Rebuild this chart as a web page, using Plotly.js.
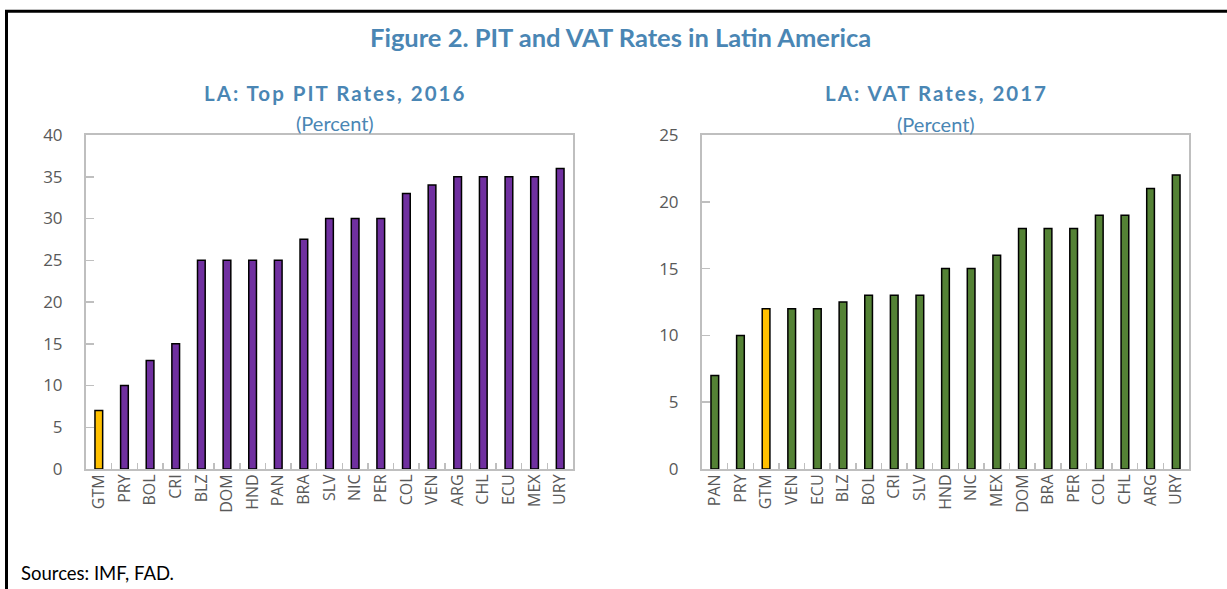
<!DOCTYPE html>
<html>
<head>
<meta charset="utf-8">
<script src="https://cdn.plot.ly/plotly-3.0.1.min.js"></script>
<style>
  html, body { margin: 0; padding: 0; background: #ffffff; }
  #chart { width: 1227px; height: 589px; }
</style>
</head>
<body>
<div id="chart"></div>
<script>
// ---- Data ----
const pitCountries = ["GTM","PRY","BOL","CRI","BLZ","DOM","HND","PAN","BRA","SLV","NIC","PER","COL","VEN","ARG","CHL","ECU","MEX","URY"];
const pitRates     = [7, 10, 13, 15, 25, 25, 25, 25, 27.5, 30, 30, 30, 33, 34, 35, 35, 35, 35, 36];

const vatCountries = ["PAN","PRY","GTM","VEN","ECU","BLZ","BOL","CRI","SLV","HND","NIC","MEX","DOM","BRA","PER","COL","CHL","ARG","URY"];
const vatRates     = [7, 10, 12, 12, 12, 12.5, 13, 13, 13, 15, 15, 16, 18, 18, 18, 19, 19, 21, 22];

const highlightCountry = "GTM";

const mainTitle = "Figure 2. PIT and VAT Rates in Latin America";
const pitTitle = "LA: Top PIT Rates, 2016";
const vatTitle = "LA: VAT Rates, 2017";
const unitLabel = "(Percent)";
const sourceNote = "Sources: IMF, FAD.";

// ---- Styling ----
const W = 1227, H = 589;
const PURPLE = "#7030A0", GREEN = "#548235", YELLOW = "#FFC000";
const BLUE = "#4A86B4", GRAY_TXT = "#595959", AXIS = "#BFBFBF";
const FONT = "Lato, 'Open Sans', sans-serif";
const TICKFONT = "'Open Sans', Lato, sans-serif";

const px = x => x / W;
const py = y => 1 - y / H;

function colorsFor(cats, base) {
  return cats.map(c => c === highlightCountry ? YELLOW : base);
}

const traces = [
  {
    type: "bar", x: pitCountries, y: pitRates, xaxis: "x", yaxis: "y",
    marker: { color: colorsFor(pitCountries, PURPLE), line: { color: "#000000", width: 1.5 } },
    hoverinfo: "x+y", showlegend: false
  },
  {
    type: "bar", x: vatCountries, y: vatRates, xaxis: "x2", yaxis: "y2",
    marker: { color: colorsFor(vatCountries, GREEN), line: { color: "#000000", width: 1.5 } },
    hoverinfo: "x+y", showlegend: false
  }
];

function xAxis(domain, anchor) {
  return {
    domain: domain, anchor: anchor, type: "category",
    showline: true, linecolor: AXIS, linewidth: 2, mirror: true,
    ticks: "inside", tickson: "boundaries", ticklen: 6, tickcolor: AXIS, tickwidth: 1.5,
    tickangle: -90, tickfont: { family: TICKFONT, size: 16, color: GRAY_TXT },
    ticklabelstandoff: -3,
    showgrid: false, zeroline: false, fixedrange: true
  };
}
function yAxis(domain, anchor, maxv) {
  return {
    domain: domain, anchor: anchor, range: [0, maxv], dtick: 5, tick0: 0,
    showline: true, linecolor: AXIS, linewidth: 2, mirror: true,
    ticks: "inside", ticklen: 8, tickcolor: AXIS, tickwidth: 1.5,
    tickfont: { family: TICKFONT, size: 17, color: GRAY_TXT },
    ticklabelstandoff: 18,
    showgrid: false, zeroline: false, fixedrange: true
  };
}

const yDom = [py(469), py(135)];

const layout = {
  width: W, height: H, autosize: false,
  margin: { l: 0, r: 0, t: 0, b: 0, pad: 0 },
  paper_bgcolor: "#ffffff", plot_bgcolor: "#ffffff",
  bargap: 0.7,
  font: { family: FONT, color: GRAY_TXT },
  xaxis: xAxis([px(86), px(573)], "y"),
  yaxis: yAxis(yDom, "x", 40),
  xaxis2: xAxis([px(702), px(1189)], "y2"),
  yaxis2: yAxis(yDom, "x2", 25),
  annotations: [
    { text: "<b>" + mainTitle + "</b>", xref: "paper", yref: "paper", x: px(621), y: py(37),
      xanchor: "center", yanchor: "middle", showarrow: false,
      font: { family: FONT, size: 25.5, color: BLUE } },
    { text: "<b>" + pitTitle + "</b>", xref: "paper", yref: "paper", x: px(335), y: py(93),
      xanchor: "center", yanchor: "middle", showarrow: false,
      font: { family: FONT, size: 20.5, color: BLUE } },
    { text: unitLabel, xref: "paper", yref: "paper", x: px(335), y: py(123),
      xanchor: "center", yanchor: "middle", showarrow: false,
      font: { family: FONT, size: 20, color: BLUE } },
    { text: "<b>" + vatTitle + "</b>", xref: "paper", yref: "paper", x: px(936), y: py(93),
      xanchor: "center", yanchor: "middle", showarrow: false,
      font: { family: FONT, size: 20.5, color: BLUE } },
    { text: unitLabel, xref: "paper", yref: "paper", x: px(936), y: py(124),
      xanchor: "center", yanchor: "middle", showarrow: false,
      font: { family: FONT, size: 20, color: BLUE } },
    { text: sourceNote, xref: "paper", yref: "paper", x: px(19), y: py(573),
      xanchor: "left", yanchor: "middle", showarrow: false,
      font: { family: FONT, size: 18.5, color: "#000000" } }
  ],
  shapes: [
    { type: "line", xref: "paper", yref: "paper", x0: px(6.5), x1: px(6.5), y0: py(10), y1: py(589),
      line: { color: "#000000", width: 3 } },
    { type: "line", xref: "paper", yref: "paper", x0: px(5), x1: px(1227), y0: py(11.3), y1: py(11.3),
      line: { color: "#000000", width: 3 } }
  ]
};

Plotly.newPlot("chart", traces, layout, { displayModeBar: false, staticPlot: true }).then(() => {
  document.querySelectorAll(".annotation-text").forEach(t => {
    if (t.textContent.indexOf("LA:") === 0) t.style.letterSpacing = "2px";
  });
});
</script>
</body>
</html>
